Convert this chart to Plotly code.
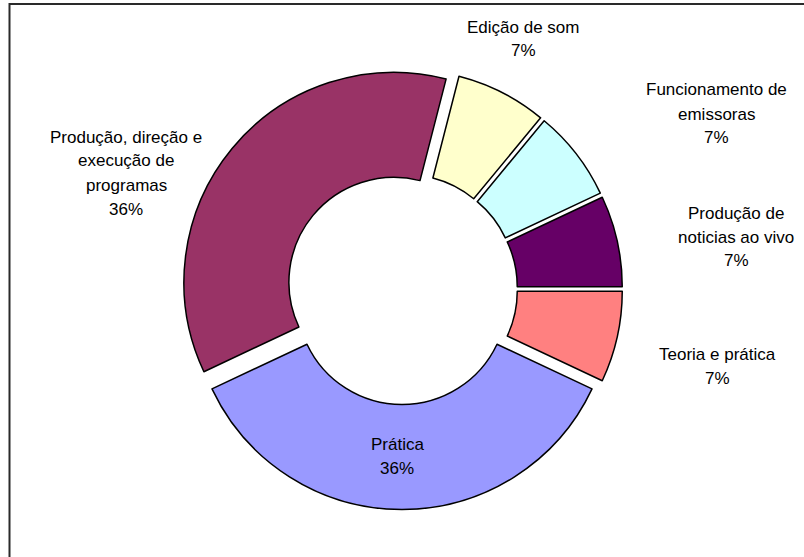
import plotly.graph_objects as go

# Course time distribution (percent of total)
categories = [
    "Edição de som",
    "Funcionamento de emissoras",
    "Produção de noticias ao vivo",
    "Teoria e prática",
    "Prática",
    "Produção, direção e execução de programas",
]
values = [7, 7, 7, 7, 36, 36]
# Line breaks used in the slice labels
label_lines = [
    ["Edição de som"],
    ["Funcionamento de", "emissoras"],
    ["Produção de", "noticias ao vivo"],
    ["Teoria e prática"],
    ["Prática"],
    ["Produção, direção e", "execução de", "programas"],
]
colors = ["#FFFFCC", "#CCFFFF", "#660066", "#FF8080", "#9999FF", "#993366"]

W, H = 804, 557
# label block anchor (pixel centre x, first line y) for each slice
label_pos = [(523, 27), (716, 90), (736, 213), (717, 354), (397, 444), (126, 137)]
LINE_H = 24


def px(x):
    return x / W


def py(y):
    return 1 - y / H


cx, cy, r, pull = 402, 289, 210, 0.05
half = r * (1 + pull)

fig = go.Figure(
    go.Pie(
        labels=categories,
        values=values,
        marker=dict(colors=colors, line=dict(color="black", width=1.5)),
        hole=0.5,
        pull=[pull] * len(values),
        sort=False,
        direction="clockwise",
        rotation=14.4,
        textinfo="none",
        hoverinfo="label+percent",
        showlegend=False,
        domain=dict(
            x=[px(cx - half), px(cx + half)],
            y=[py(cy + half), py(cy - half)],
        ),
    )
)

annotations = []
for lines, v, (lx, ly) in zip(label_lines, values, label_pos):
    for i, t in enumerate(lines + [f"{v}%"]):
        annotations.append(
            dict(
                x=px(lx), y=py(ly + i * LINE_H),
                xref="paper", yref="paper",
                text=t, showarrow=False,
                xanchor="center", yanchor="middle",
                font=dict(family="Liberation Sans, Arial, sans-serif", size=17, color="black"),
            )
        )

fig.update_layout(
    width=W, height=H,
    margin=dict(l=0, r=0, t=0, b=0),
    paper_bgcolor="white",
    plot_bgcolor="white",
    annotations=annotations,
    shapes=[
        dict(
            type="rect", xref="paper", yref="paper",
            x0=px(9.5), y0=-0.05, x1=1.05, y1=py(4),
            line=dict(color="#2a2a2a", width=2),
            fillcolor="rgba(0,0,0,0)",
            layer="below",
        )
    ],
)

fig.write_html("out.html")
